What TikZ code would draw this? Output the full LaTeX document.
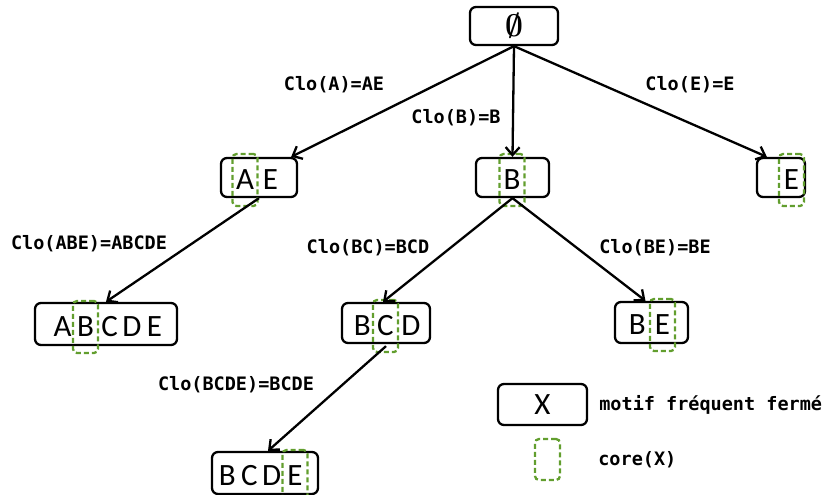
\documentclass[tikz,border=0pt]{standalone}
\usepackage{fontspec}
\setmainfont{Carlito}
\setmonofont{DejaVu Sans Mono}
\usetikzlibrary{positioning,arrows.meta}
\definecolor{coregreen}{RGB}{98,158,46}

\begin{document}
\begin{tikzpicture}[x=1pt,y=-1pt,
    itemset/.style={draw, rectangle, rounded corners=6pt, line width=2.3pt, inner sep=0pt},
    letter/.style={inner sep=0pt, font=\fontsize{31}{33}\selectfont},
    core/.style={letter, draw=coregreen, dash pattern=on 5pt off 3pt, rounded corners=4pt,
                 line width=2.3pt, minimum width=25pt, minimum height=52pt},
    clo/.style={inner sep=0pt, font=\ttfamily\bfseries\fontsize{18.5}{20}\selectfont},
    arc/.style={-{Straight Barb[length=8pt,width=14pt,line width=2.3pt]}, line width=2.3pt}]
    \useasboundingbox (0,0) rectangle (831,495);

    \node[itemset, minimum width=88pt, minimum height=38pt, letter] (root) at (514,26)
        {\scalebox{1.25}{\boldmath$\emptyset$}};

    \node[itemset, minimum width=76pt, minimum height=39pt] (nAE) at (259,177.5) {};
    \node[core] (cAE) at (245,180) {A};
    \node[letter, right=4pt of cAE] (eAE) {E};

    \node[itemset, minimum width=73pt, minimum height=39pt] (nB) at (512.5,177.5) {};
    \node[core] (cB) at (512,180) {B};

    \node[itemset, minimum width=48pt, minimum height=39pt] (nE) at (781,177.5) {};
    \node[core] (cE) at (791.5,180) {E};

    \node[itemset, minimum width=142pt, minimum height=42pt] (nABCDE) at (106,324) {};
    \node[core] (cABCDE) at (85.5,327) {B};
    \node[letter, left=0pt of cABCDE] (aABCDE) {A};
    \node[letter, right=2pt of cABCDE] (cpABCDE) {C};
    \node[letter, right=4pt of cpABCDE] (dABCDE) {D};
    \node[letter, right=5pt of dABCDE] (eABCDE) {E};

    \node[itemset, minimum width=88pt, minimum height=40pt] (nBCD) at (386,323) {};
    \node[core] (cBCD) at (385.5,326) {C};
    \node[letter, left=1pt of cBCD] (bBCD) {B};
    \node[letter, right=2pt of cBCD] (dBCD) {D};

    \node[itemset, minimum width=73pt, minimum height=41pt] (nBE) at (651.5,322.5) {};
    \node[core] (cBE) at (662.5,325) {E};
    \node[letter, left=3pt of cBE] (bBE) {B};

    \node[itemset, minimum width=106pt, minimum height=42pt] (nBCDE) at (265,473) {};
    \node[core] (cBCDE) at (295,476) {E};
    \node[letter, left=0pt of cBCDE] (dBCDE) {D};
    \node[letter, left=4pt of dBCDE] (cpBCDE) {C};
    \node[letter, left=5pt of cpBCDE] (bBCDE) {B};

    \draw[arc] (root.south) -- ([xshift=-7pt]nAE.north east);
    \draw[arc] (root.south) -- (nB.north);
    \draw[arc] (root.south) -- ([xshift=11pt]nE.north west);
    \draw[arc] (nAE.south) -- (nABCDE.north);
    \draw[arc] (nB.south) -- ([xshift=-3pt]nBCD.north);
    \draw[arc] (nB.south) -- ([xshift=-6pt]nBE.north);
    \draw[arc] ([yshift=-2pt]nBCD.south) -- ([xshift=3pt]nBCDE.north);

    \node[clo] (lA) at (334,85) {Clo(A)=AE};
    \node[clo] (lB) at (456,118) {Clo(B)=B};
    \node[clo] (lE) at (690,85) {Clo(E)=E};
    \node[clo] (lABE) at (89,244) {Clo(ABE)=ABCDE};
    \node[clo] (lBC) at (368,248) {Clo(BC)=BCD};
    \node[clo] (lBE) at (655,248) {Clo(BE)=BE};
    \node[clo] (lBCDE) at (236,385) {Clo(BCDE)=BCDE};

    \node[itemset, minimum width=89pt, minimum height=41pt, letter] (lgX) at (542.5,404.5) {X};
    \node[core, minimum height=41pt] (lgCore) at (547.5,459.5) {};
    \node[clo, right=11pt of lgX] (lgXtxt) {motif fréquent fermé};
    \node[clo, right=37pt of lgCore] (lgCoretxt) {core(X)};
\end{tikzpicture}
\end{document}
